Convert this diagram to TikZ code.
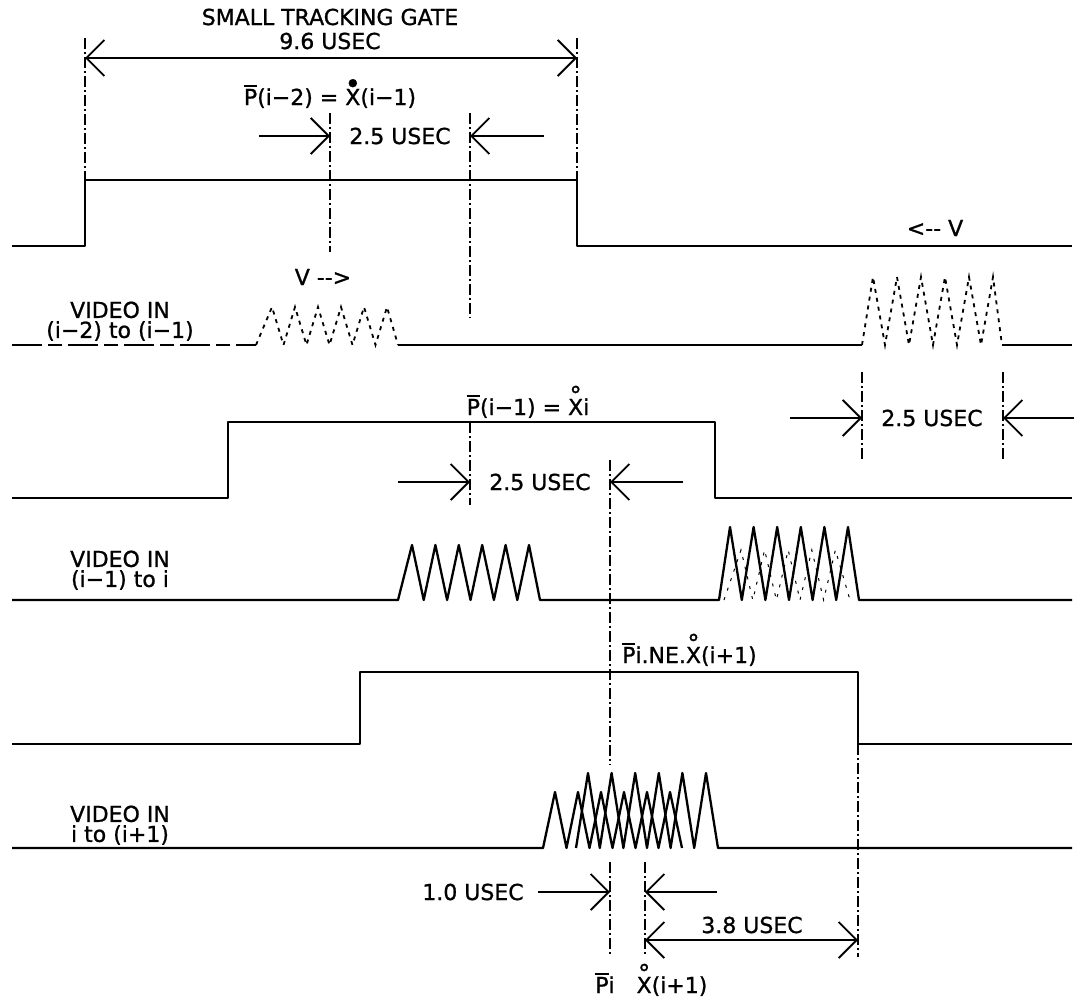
\documentclass[tikz,border=0pt]{standalone}
\usepackage{fontspec}
\setmainfont{DejaVu Sans}
\usetikzlibrary{arrows.meta}
\newcommand\Pb{\leavevmode\hbox{\ooalign{\rule[0.82em]{0.6em}{1.6pt}\cr P}}}
\newcommand\Xo{\leavevmode\hbox{\ooalign{X\cr\hidewidth\raisebox{0.52em}{\fontsize{24}{24}\selectfont °}\hidewidth\cr}}}
\newcommand\Xd{\leavevmode\hbox{\ooalign{X\cr\hidewidth\raisebox{0.52em}{\fontsize{28}{28}\selectfont •}\hidewidth\cr}}}
\tikzset{
 txt/.style={font=\fontsize{22}{20}\selectfont\addfontfeature{FakeBold=1}, inner sep=0pt},
 sig/.style={line width=2.3pt, line join=round},
 faint/.style={line width=1.8pt, dash pattern=on 4pt off 5pt},
 guide/.style={line width=1.3pt, dash pattern=on 11pt off 3pt on 2pt off 3pt},
 barb/.tip={Straight Barb[length=18pt,width=36pt]},
 dimarr/.style={line width=1.8pt, -barb},
 dimboth/.style={line width=1.8pt, barb-barb},
}
\begin{document}
\begin{tikzpicture}[x=1pt,y=-1pt]
\useasboundingbox (0,0) rectangle (1074,1001);
% ---- top dimension
\node[txt] (title) at (330,17) {SMALL TRACKING GATE};
\node[txt] (gatew) at (330,41) {9.6 USEC};
\coordinate (gl) at (85,58); \coordinate (gr) at (577,58);
\draw[dimboth] (gl) -- (gr);
\draw[guide] (85,38) -- (85,180);
\draw[guide] (577,38) -- (577,180);
\node[txt, anchor=base] (p2) at (330,105) {\Pb(i−2) = \Xd(i−1)};
\node[txt] (t1) at (400,136) {2.5 USEC};
\coordinate (a1s) at (259,136); \coordinate (a1e) at (330,136);
\coordinate (b1s) at (544,136); \coordinate (b1e) at (470,136);
\draw[dimarr] (a1s) -- (a1e);
\draw[dimarr] (b1s) -- (b1e);
\draw[guide] (330,113) -- (330,252);
\draw[guide] (470,113) -- (470,318);
% ---- gate 1
\draw[sig] (12,246) -- (85,246) -- (85,180) -- (577,180) -- (577,246) -- (1072,246);
\node[txt] (vl) at (935,228) {<-{}- V};
% ---- video 1
\node[txt] (vr) at (323,277) {V -{}->};
\node[txt, align=center, anchor=south] (lab1) at (120,341) {VIDEO IN\\(i−2) to (i−1)};
\draw[sig, dash pattern=on 30pt off 6pt on 14pt off 6pt] (12,345) -- (256,345);
\draw[faint] (256,345) -- (272,307) \foreach \k in {1,...,5} { -- ({272+23*\k-11.5},345) -- ({272+23*\k},307)} -- (398,345);
\draw[sig] (398,345) -- (862,345);
\draw[faint] (862,345) -- (873,277) \foreach \k in {1,...,5} { -- ({873+24*\k-12},345) -- ({873+24*\k},277)} -- (1002,345);
\draw[sig] (1002,345) -- (1072,345);
% right 2.5 usec
\draw[guide] (862,372) -- (862,462);
\draw[guide] (1003,372) -- (1003,462);
\node[txt] (t2) at (932,418) {2.5 USEC};
\coordinate (c1s) at (790,418); \coordinate (c1e) at (862,418);
\coordinate (d1s) at (1074,418); \coordinate (d1e) at (1003,418);
\draw[dimarr] (c1s) -- (c1e);
\draw[dimarr] (d1s) -- (d1e);
% ---- gate 2
\node[txt, anchor=base] (p1) at (528,415) {\Pb(i−1) = \Xo i};
\draw[sig] (12,498) -- (228,498) -- (228,422) -- (715,422) -- (715,498) -- (1072,498);
\draw[guide] (470,422) -- (470,505);
\node[txt] (t3) at (540,482) {2.5 USEC};
\coordinate (e1s) at (398,482); \coordinate (e1e) at (470,482);
\coordinate (f1s) at (683,482); \coordinate (f1e) at (610,482);
\draw[dimarr] (e1s) -- (e1e);
\draw[dimarr] (f1s) -- (f1e);
\draw[guide] (610,460) -- (610,765);
% ---- video 2
\node[txt, align=center, anchor=south] (lab2) at (120,590) {VIDEO IN\\(i−1) to i};
\draw[sig] (12,600) -- (398,600) -- (412,545) \foreach \k in {1,...,5} { -- ({412+23.4*\k-11.7},600) -- ({412+23.4*\k},545)} -- (540,600) -- (719,600) -- (730,527) \foreach \k in {1,...,5} { -- ({730+23.6*\k-11.8},600) -- ({730+23.6*\k},527)} -- (859,600) -- (1072,600);
\draw[line width=1pt, dash pattern=on 3pt off 7pt] (724,600) -- (741,550) \foreach \k in {1,...,4} { -- ({741+23.6*\k-11.8},600) -- ({741+23.6*\k},550)} -- (850,600);
% ---- gate 3
\node[txt, anchor=base west] (ne) at (622,663) {\Pb i.NE.\Xo(i+1)};
\draw[sig] (12,744) -- (360,744) -- (360,672) -- (858,672) -- (858,744) -- (1072,744);
\draw[guide] (858,744) -- (858,957);
% ---- video 3
\node[txt, align=center, anchor=south] (lab3) at (120,845) {VIDEO IN\\i to (i+1)};
\draw[sig] (12,848) -- (543,848) -- (555,792) \foreach \k in {1,...,5} { -- ({555+23*\k-11.5},848) -- ({555+23*\k},792)} -- (682,848);
\draw[sig] (576,848) -- (588,773) \foreach \k in {1,...,5} { -- ({588+23.6*\k-11.8},848) -- ({588+23.6*\k},773)} -- (718,848) -- (1072,848);
% ---- bottom dimensions
\node[txt] (t4) at (473,892) {1.0 USEC};
\coordinate (g1s) at (538,892); \coordinate (g1e) at (610,892);
\coordinate (h1s) at (717,892); \coordinate (h1e) at (645,892);
\draw[dimarr] (g1s) -- (g1e);
\draw[dimarr] (h1s) -- (h1e);
\draw[guide] (610,862) -- (610,957);
\draw[guide] (645,862) -- (645,957);
\coordinate (k1) at (645,940); \coordinate (k2) at (858,940);
\draw[dimboth] (k1) -- (k2);
\node[txt] (t5) at (752,925) {3.8 USEC};
\node[txt, anchor=base] (pi) at (605,993) {\Pb i};
\node[txt, anchor=base] (xi) at (672,993) {\Xo(i+1)};
\end{tikzpicture}
\end{document}
